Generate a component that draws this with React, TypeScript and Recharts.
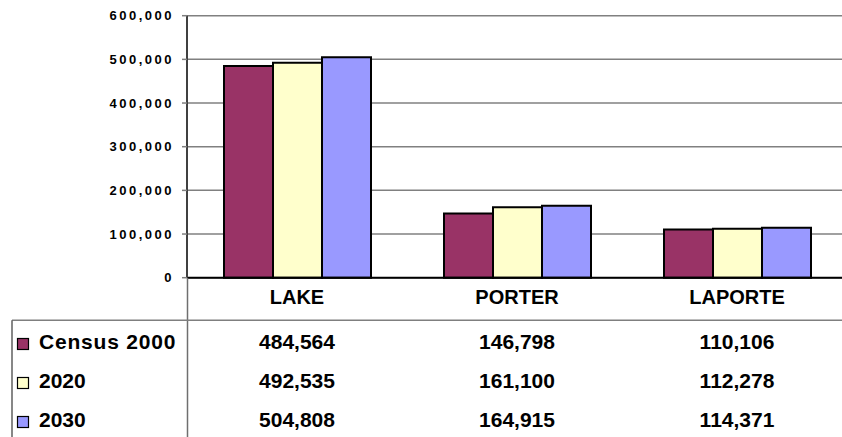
import React from 'react';
import { BarChart, Bar, XAxis, YAxis, CartesianGrid, Legend } from 'recharts';

const categories = ['LAKE', 'PORTER', 'LAPORTE'];
const census2000 = [484564, 146798, 110106];
const proj2020 = [492535, 161100, 112278];
const proj2030 = [504808, 164915, 114371];
const seriesNames = ['Census 2000', '2020', '2030'];
const seriesKeys = ['c2000', 'p2020', 'p2030'];
const seriesColors = ['#993366', '#FFFFCC', '#9999FF'];
const yTicks = [0, 100000, 200000, 300000, 400000, 500000, 600000];

const seriesValues = [census2000, proj2020, proj2030];

const data = categories.map((c, i) => {
  const row: Record<string, any> = { name: c };
  seriesKeys.forEach((k, s) => {
    row[k] = seriesValues[s][i];
  });
  return row;
});

const FONT = '"Liberation Sans", Arial, Helvetica, sans-serif';
const fmt = (v: number) => v.toLocaleString('en-US');

const CategoryTick = (props: any) => {
  const { x, y, payload } = props;
  const i = categories.indexOf(payload.value);
  return (
    <g>
      <text x={x} y={y + 26} textAnchor="middle" fontFamily={FONT} fontWeight="bold" fontSize={20} fill="#000">
        {payload.value}
      </text>
      {seriesValues.map((vals, k) => (
        <text key={k} x={x} y={y + 71 + k * 39} textAnchor="middle" fontFamily={FONT} fontWeight="bold" fontSize={21} fill="#000">
          {fmt(vals[i])}
        </text>
      ))}
    </g>
  );
};

const TableLegend = () => {
  return (
    <svg width={842} height={160} style={{ display: 'block' }}>
      <line x1={187.5} y1={0} x2={187.5} y2={160} stroke="#6f6f6f" strokeWidth={1.5} />
      <line x1={12} y1={42.3} x2={842} y2={42.3} stroke="#7f7f7f" strokeWidth={1.5} />
      <line x1={12} y1={42.3} x2={12} y2={160} stroke="#5f5f5f" strokeWidth={1.5} />
      {seriesNames.map((name, k) => (
        <g key={k}>
          <rect x={17.5} y={60.5 + k * 39} width={11} height={11} fill={seriesColors[k]} stroke="#000" strokeWidth={1.2} />
          <text x={39} y={71 + k * 39} fontFamily={FONT} fontWeight="bold" fontSize={21} fill="#000" letterSpacing={k === 0 ? 0.8 : 0}>
            {name}
          </text>
        </g>
      ))}
    </svg>
  );
};

export default function App() {
  return (
    <div style={{ position: 'absolute', left: 0, top: 0, width: 842, height: 437, overflow: 'hidden', background: '#fff' }}>
      <BarChart
        width={860}
        height={437}
        data={data}
        margin={{ top: 15.7, right: 13, left: 0, bottom: 0 }}
        barGap={0}
        barCategoryGap={37}
      >
        <CartesianGrid vertical={false} stroke="#808080" strokeWidth={1.5} />
        <XAxis
          dataKey="name"
          height={159.3}
          interval={0}
          tickLine={false}
          tickSize={0}
          tickMargin={0}
          axisLine={{ stroke: '#000', strokeWidth: 2 }}
          tick={<CategoryTick />}
        />
        <YAxis
          width={187}
          domain={[0, 600000]}
          ticks={yTicks}
          interval={0}
          tickFormatter={fmt}
          tickSize={5}
          tickMargin={8}
          axisLine={{ stroke: '#404040', strokeWidth: 2 }}
          tickLine={{ stroke: '#7f7f7f', strokeWidth: 1.5 }}
          tick={{ fontSize: 13, fontWeight: 'bold', fill: '#000', fontFamily: FONT, letterSpacing: 2.5 }}
        />
        <Legend
          layout="horizontal"
          verticalAlign="middle"
          align="center"
          wrapperStyle={{ position: 'absolute', left: 0, top: 277.7, width: 842, height: 160 }}
          content={<TableLegend />}
        />
        {seriesKeys.map((k, s) => (
          <Bar
            key={k}
            dataKey={k}
            name={seriesNames[s]}
            fill={seriesColors[s]}
            stroke="#000"
            strokeWidth={2}
            isAnimationActive={false}
          />
        ))}
      </BarChart>
    </div>
  );
}
